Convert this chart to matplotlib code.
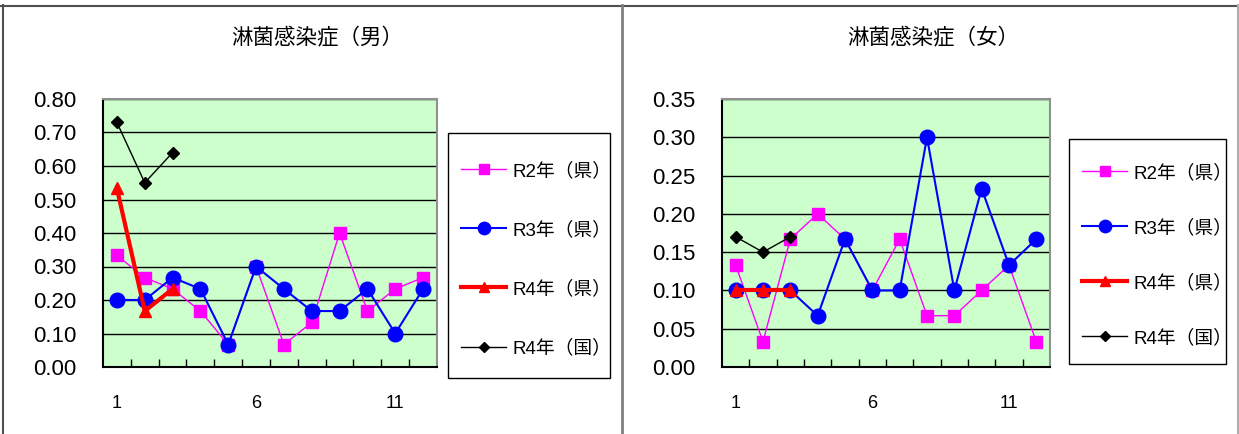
"""淋菌感染症 定点当たり報告数 (男/女)"""

import matplotlib
matplotlib.use('Agg')
import matplotlib.pyplot as plt
from matplotlib.lines import Line2D
from matplotlib.patches import Rectangle
from matplotlib.ticker import FixedLocator, FormatStrFormatter

plt.rcParams['font.family'] = ['Liberation Sans', 'Noto Sans CJK JP', 'DejaVu Sans']

months = list(range(1, 13))
series_names = ['R2年（県）', 'R3年（県）', 'R4年（県）', 'R4年（国）']

# 男
male_r2 = [0.333, 0.267, 0.233, 0.167, 0.067, 0.300, 0.067, 0.133, 0.400, 0.167, 0.233, 0.267]
male_r3 = [0.200, 0.200, 0.267, 0.233, 0.067, 0.300, 0.233, 0.167, 0.167, 0.233, 0.100, 0.233]
male_r4 = [0.533, 0.167, 0.233]
male_r4_nat = [0.73, 0.55, 0.64]

# 女
female_r2 = [0.133, 0.033, 0.167, 0.200, 0.167, 0.100, 0.167, 0.067, 0.067, 0.100, 0.133, 0.033]
female_r3 = [0.100, 0.100, 0.100, 0.067, 0.167, 0.100, 0.100, 0.300, 0.100, 0.233, 0.133, 0.167]
female_r4 = [0.100, 0.100, 0.100]
female_r4_nat = [0.17, 0.15, 0.17]

W, H = 1239, 434
fig = plt.figure(figsize=(W / 100, H / 100), dpi=100)

# outer table frame (pixel coords)
frame = fig.add_axes([0, 0, 1, 1], zorder=-5)
frame.set_axis_off()
frame.set_xlim(0, W)
frame.set_ylim(H, 0)
frame.plot([0, W], [5.5, 5.5], color='#505050', lw=1.5)
frame.plot([3, 3], [5, H], color='#505050', lw=1.5)
frame.plot([622, 622], [5, H], color='#808080', lw=2)
frame.plot([1238, 1238], [5, H], color='#b0b0b0', lw=1.5)

styles = [
    dict(color='#ff00ff', lw=1.0, marker='s', ms=9),
    dict(color='#0000ff', lw=1.5, marker='o', ms=10.5),
    dict(color='#ff0000', lw=3.0, marker='^', ms=9),
    dict(color='#000000', lw=1.0, marker='D', ms=6),
]


def px_rect(x0, y0, x1, y1):
    return [x0 / W, (H - y1) / H, (x1 - x0) / W, (y1 - y0) / H]


def draw_panel(rect, legend_rect, spacing, title, title_x, data, ymax, ystep):
    ax = fig.add_axes(px_rect(*rect))
    ax.set_facecolor('#ccffcc')
    for vals, st in zip(data, styles):
        ax.plot(months[:len(vals)], vals, color=st['color'], lw=st['lw'],
                marker=st['marker'], ms=st['ms'], mec=st['color'], mfc=st['color'])
    ax.set_xlim(0.5, 12.5)
    ax.set_ylim(0, ymax)
    n = int(round(ymax / ystep))
    ax.set_yticks([i * ystep for i in range(n + 1)])
    ax.yaxis.set_major_formatter(FormatStrFormatter('%.2f'))
    ax.grid(axis='y', color='black', lw=1)
    ax.set_axisbelow(True)
    ax.set_xticks([1, 6, 11])
    ax.xaxis.set_minor_locator(FixedLocator([i + 0.5 for i in range(1, 12)]))
    ax.tick_params(axis='x', which='major', length=0, pad=20, labelsize=13)
    ax.tick_params(axis='x', which='minor', direction='in', length=6, width=1)
    ax.tick_params(axis='y', length=0, pad=19, labelsize=16)
    for s in ['top', 'right']:
        ax.spines[s].set_color('#909090')
        ax.spines[s].set_linewidth(1.5)
    for s in ['left', 'bottom']:
        ax.spines[s].set_color('black')
        ax.spines[s].set_linewidth(1.5)

    fig.text(title_x / W, 1 - 38 / H, title, ha='center', va='center', fontsize=15.5,
             family=['Noto Sans CJK JP'])

    # legend box drawn on the frame axes, entries placed inside it
    lx0, ly0, lx1, ly1 = legend_rect
    frame.add_patch(Rectangle((lx0, ly0), lx1 - lx0, ly1 - ly0, fill=False,
                              edgecolor='black', lw=1.0, zorder=5))
    handles = [Line2D([], [], color=st['color'], lw=st['lw'], marker=st['marker'],
                      ms=st['ms'] * 0.85, mec=st['color'], mfc=st['color'])
               for st in styles]
    fig.legend(handles, series_names, loc='center left',
               bbox_to_anchor=(lx0 / W + 13 / W, 1 - ((ly0 + ly1) / 2 + 4) / H),
               frameon=False, labelspacing=spacing, handlelength=2.4,
               handletextpad=0.35, borderpad=0.0, borderaxespad=0.0,
               prop={'family': ['Liberation Sans', 'Noto Sans CJK JP'], 'size': 13.5})
    return ax


draw_panel((103, 99, 437, 367), (448, 133, 610, 378), 2.2, '淋菌感染症（男）', 317,
           [male_r2, male_r3, male_r4, male_r4_nat], 0.8, 0.1)
draw_panel((722, 99, 1050, 367), (1069, 139, 1226, 364), 1.98, '淋菌感染症（女）', 933,
           [female_r2, female_r3, female_r4, female_r4_nat], 0.35, 0.05)

plt.savefig('out.png', dpi=100)
plt.close()
